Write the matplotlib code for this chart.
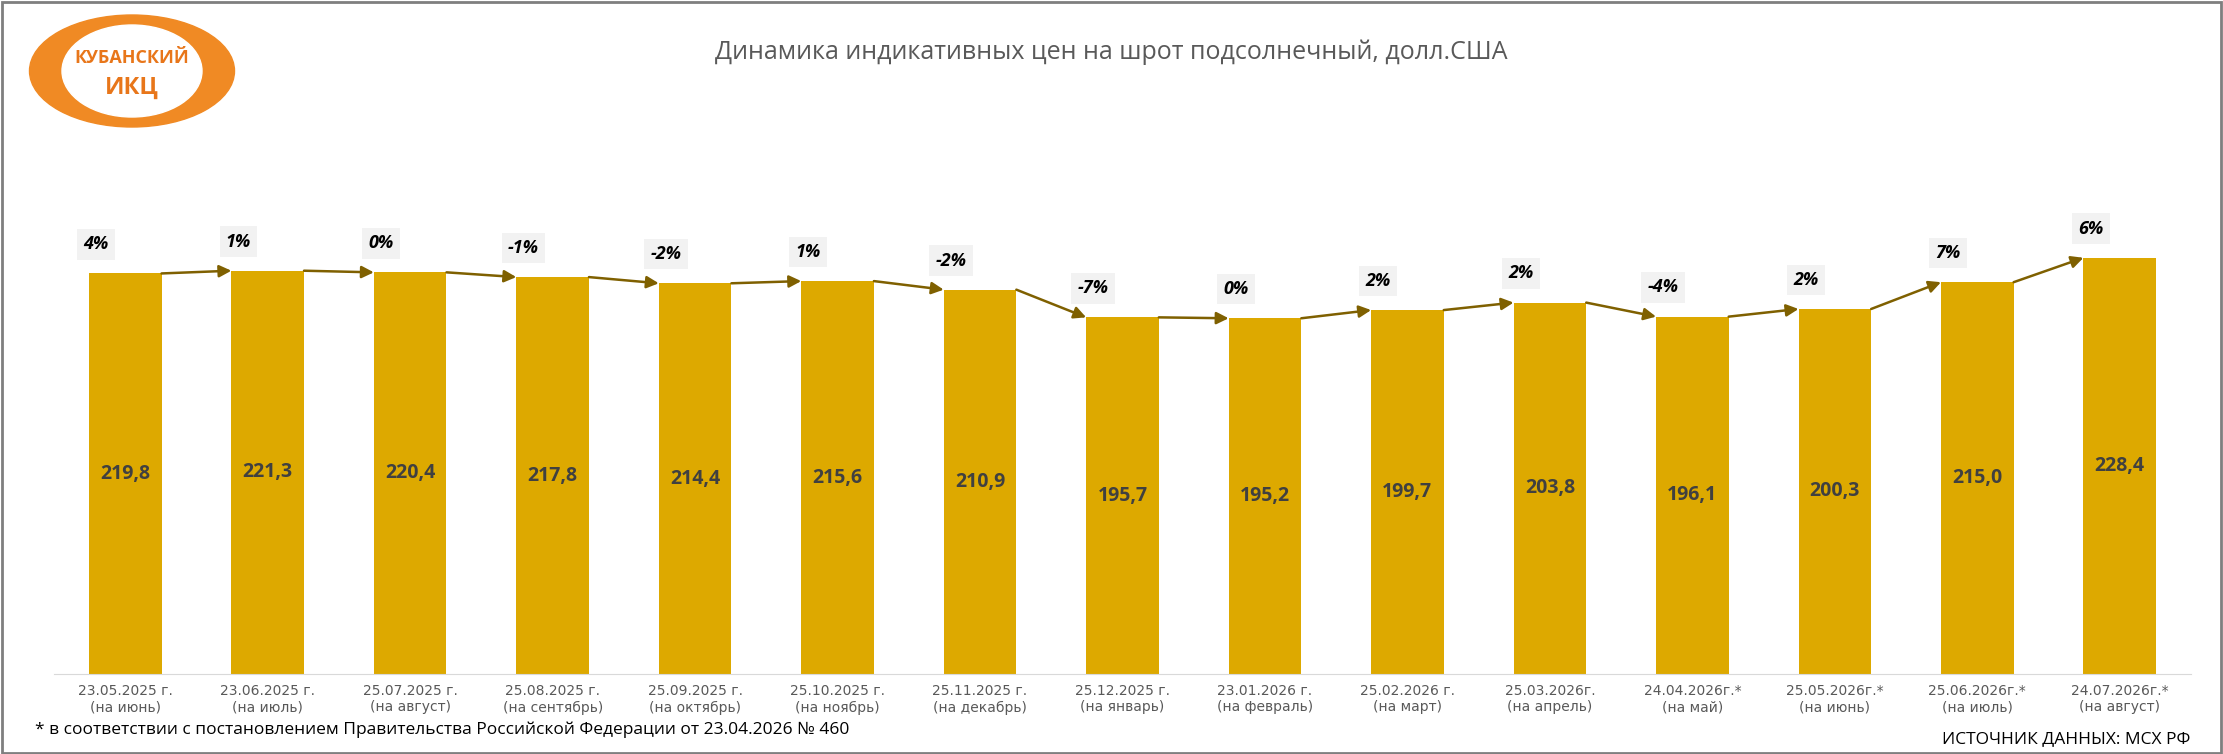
import numpy as np
import matplotlib.pyplot as plt
from matplotlib.patches import Ellipse, Rectangle

plt.rcParams['font.family'] = ['Open Sans', 'DejaVu Sans']

dates = ['23.05.2025 г.', '23.06.2025 г.', '25.07.2025 г.', '25.08.2025 г.', '25.09.2025 г.',
         '25.10.2025 г.', '25.11.2025 г.', '25.12.2025 г.', '23.01.2026 г.', '25.02.2026 г.',
         '25.03.2026г.', '24.04.2026г.*', '25.05.2026г.*', '25.06.2026г.*', '24.07.2026г.*']
months = ['(на июнь)', '(на июль)', '(на август)', '(на сентябрь)', '(на октябрь)',
          '(на ноябрь)', '(на декабрь)', '(на январь)', '(на февраль)', '(на март)',
          '(на апрель)', '(на май)', '(на июнь)', '(на июль)', '(на август)']
prices = [219.8, 221.3, 220.4, 217.8, 214.4, 215.6, 210.9, 195.7, 195.2, 199.7,
          203.8, 196.1, 200.3, 215.0, 228.4]
changes = ['4%', '1%', '0%', '-1%', '-2%', '1%', '-2%', '-7%', '0%', '2%',
           '2%', '-4%', '2%', '7%', '6%']

bar_color = '#DDA900'
arrow_color = '#7F6000'

fig = plt.figure(figsize=(22.23, 7.54), dpi=100)
ax = fig.add_axes([54 / 2223, 80 / 754, (2191 - 54) / 2223, (674 - 120) / 754])
x = np.arange(len(prices))
w = 0.51
ax.bar(x, prices, width=w, color=bar_color, zorder=2)
ax.set_xlim(-0.5, len(prices) - 0.5)
ax.set_ylim(0, 304)

for i, v in enumerate(prices):
    ax.text(i, v / 2, f'{v:.1f}'.replace('.', ','), ha='center', va='center',
            fontsize=14, fontweight='bold', color='#404040', zorder=3)
    ax.text(i - w / 2 + 0.05, v + 16, changes[i], ha='center', va='center',
            fontsize=13, fontweight='bold', fontstyle='italic', color='black',
            bbox=dict(boxstyle='square,pad=0.35', fc='#F2F2F2', ec='none'), zorder=3)
for i in range(len(prices) - 1):
    ax.annotate('', xy=(i + 1 - w / 2, prices[i + 1]), xytext=(i + w / 2, prices[i]),
                arrowprops=dict(arrowstyle='-|>', color=arrow_color, lw=1.8,
                                mutation_scale=18, shrinkA=0, shrinkB=0), zorder=4)

ax.set_xticks(x)
ax.set_xticklabels([f'{d}\n{m}' for d, m in zip(dates, months)], fontsize=10,
                   color='#595959', linespacing=1.25,
                   family=['Liberation Sans Narrow', 'DejaVu Sans'])
ax.tick_params(axis='x', length=0, pad=7)
ax.set_yticks([])
for s in ['left', 'right', 'top']:
    ax.spines[s].set_visible(False)
ax.spines['bottom'].set_color('#D9D9D9')

fig.text(0.5, 1 - 52 / 754, 'Динамика индикативных цен на шрот подсолнечный, долл.США',
         ha='center', va='center', fontsize=18, color='#595959')
fig.text(35 / 2223, 1 - 730 / 754,
         '* в соответствии с постановлением Правительства Российской Федерации от 23.04.2026 № 460',
         ha='left', va='center', fontsize=12.5, color='black')
fig.text(2190 / 2223, 1 - 739 / 754, 'ИСТОЧНИК ДАННЫХ: МСХ РФ',
         ha='right', va='center', fontsize=12.5, color='black')

# logo
lg = fig.add_axes([25 / 2223, 1 - 130 / 754, 215 / 2223, 118 / 754])
lg.set_xlim(0, 215)
lg.set_ylim(0, 118)
lg.axis('off')
lg.add_patch(Ellipse((107, 59), 205, 112, color='#F08A24'))
lg.add_patch(Ellipse((107, 59), 140, 92, color='white'))
lg.text(107, 72, 'КУБАНСКИЙ', ha='center', va='center', fontsize=13,
        fontweight='bold', color='#E8761A')
lg.text(107, 42, 'ИКЦ', ha='center', va='center', fontsize=17,
        fontweight='bold', color='#E8761A')

fig.patches.append(Rectangle((0.001, 0.001), 0.998, 0.997, transform=fig.transFigure,
                             fill=False, ec='#7F7F7F', lw=2))

fig.savefig('out.png', dpi=100)
